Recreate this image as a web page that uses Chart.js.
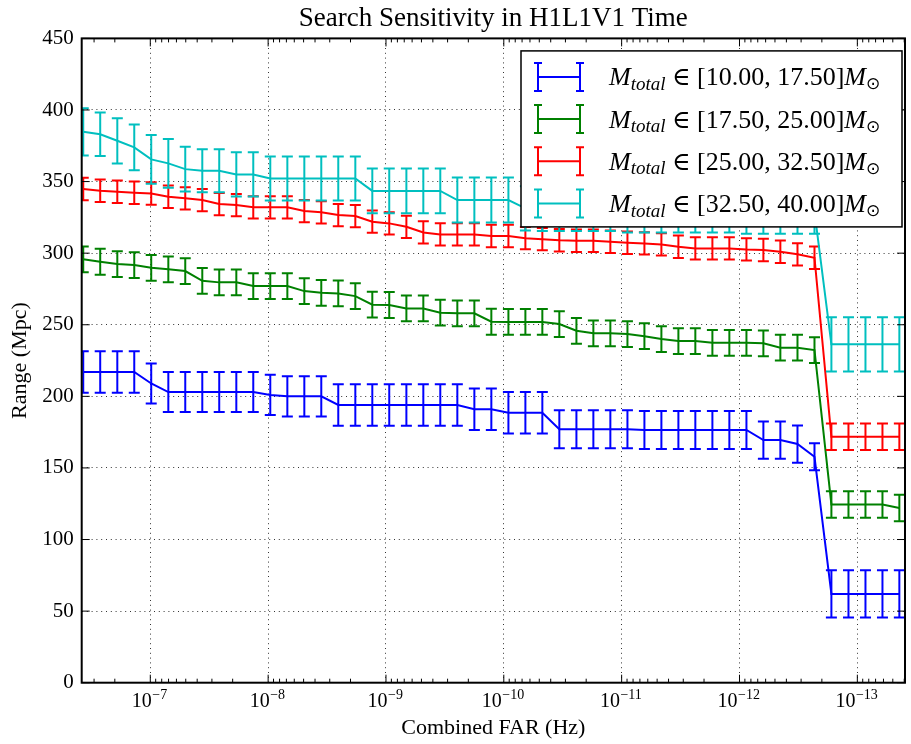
<!DOCTYPE html>
<html>
<head>
<meta charset="utf-8">
<title>Search Sensitivity in H1L1V1 Time</title>
<script src="https://cdn.jsdelivr.net/npm/chart.js@4.4.1/dist/chart.umd.min.js"></script>
<style>
  html, body { margin: 0; padding: 0; background: #fff; }
  #wrap { width: 911px; height: 744px; }
</style>
</head>
<body>
<div id="wrap"><canvas id="myChart" width="911" height="744"></canvas></div>
<script>
// combined false alarm rate thresholds (Hz), one per point
const farValues = [
  3.707e-7, 2.661e-7, 1.905e-7, 1.368e-7, 9.82e-8, 7.03e-8, 5.05e-8, 3.62e-8, 2.60e-8, 1.862e-8,
  1.337e-8, 9.59e-9, 6.87e-9, 4.93e-9, 3.54e-9, 2.54e-9, 1.82e-9, 1.306e-9, 9.38e-10, 6.71e-10,
  4.82e-10, 3.46e-10, 2.48e-10, 1.778e-10, 1.276e-10, 9.14e-11, 6.56e-11, 4.71e-11, 3.38e-11, 2.42e-11,
  1.738e-11, 1.247e-11, 8.93e-12, 6.41e-12, 4.60e-12, 3.30e-12, 2.37e-12, 1.698e-12, 1.219e-12, 8.73e-13,
  6.27e-13, 4.50e-13, 3.22e-13, 2.31e-13, 1.660e-13, 1.189e-13, 8.53e-14, 6.12e-14, 4.40e-14
];

// total mass bin edges (solar masses)
const massEdges = [10, 17.5, 25, 32.5, 40];

// search range (Mpc) per mass bin
const rangeBin1 = [
  217, 217, 217, 217, 209, 203, 203, 203, 203, 203,
  203, 201, 200, 200, 200, 194, 194, 194, 194, 194,
  194, 194, 194, 191, 191, 188.5, 188.5, 188.5, 177, 177,
  177, 177, 177, 176.5, 176.5, 176.5, 176.5, 176.5, 176.5, 176.5,
  169.5, 169.5, 166.7, 157.8, 62, 62, 62, 62, 62
];
const rangeBin2 = [
  295.7, 294, 292.4, 291.7, 289.8, 288.7, 287.5, 280.7, 279.6, 279.6,
  277, 277, 277, 273.5, 272.3, 271.9, 270, 264, 263.8, 261.4,
  261.4, 258.4, 258, 258, 252.1, 252, 252, 252, 250.5, 245.8,
  244, 244, 243.5, 242, 240, 238.6, 238.6, 237.4, 237.4, 237.4,
  237, 234, 234, 232.3, 124.5, 124.5, 124.5, 124.5, 122
];
const rangeBin3 = [
  344.8, 343.6, 342.9, 342.2, 341.7, 339.4, 338.3, 337.1, 334.3, 333.6,
  332, 332, 332, 329.4, 328.5, 326.6, 325.9, 322, 320.8, 318.4,
  314.5, 313.1, 313.1, 313.1, 312, 312, 310.5, 309.8, 309, 308.7,
  308.7, 308, 307.3, 306.8, 306.1, 304.5, 303.3, 303.3, 303.3, 302.6,
  302.2, 301, 299.2, 296.8, 171.8, 171.8, 171.8, 171.8, 171.8
];
const rangeBin4 = [
  384.8, 383, 378.5, 373.9, 365.5, 362.7, 358.7, 357.5, 357.5, 355,
  355, 352.2, 352.2, 352.2, 352.2, 352.2, 352.2, 343.5, 343.5, 343.5,
  343.5, 343.5, 337.1, 337.1, 337.1, 337.1, 331.3, 331, 331, 331,
  331, 331, 330, 330, 330, 330, 330, 330, 330, 329,
  329, 329, 329, 329, 236.3, 236.3, 236.3, 236.3, 236.3
];

// one-sigma uncertainty on the range (Mpc)
const errBin1 = [
  14.5, 14.5, 14.5, 14.5, 14, 14, 14, 14, 14, 14,
  14, 14, 14, 14, 14, 14.5, 14.5, 14.5, 14.5, 14.5,
  14.5, 14.5, 14.5, 14.5, 14.5, 14.5, 14.5, 14.5, 13.3, 13.3,
  13.3, 13.3, 13.3, 13.3, 13.3, 13.3, 13.3, 13.3, 13.3, 13.3,
  13, 13, 13, 9.5, 16.5, 16.5, 16.5, 16.5, 16.5
];
const errBin2 = [
  9, 9, 9, 9, 9, 9, 9, 9, 9, 9,
  9, 9, 9, 9, 9, 9, 9, 9, 9, 9,
  9, 9, 9, 9, 9, 9, 9, 9, 9, 9,
  9, 9, 9, 9, 9, 9, 9, 9, 9, 9,
  9, 9, 9, 9, 9.3, 9.3, 9.3, 9.3, 9.3
];
const errBin3 = [
  7.8, 7.8, 7.8, 7.8, 7.8, 7.8, 7.8, 7.8, 7.8, 7.8,
  7.8, 7.8, 7.8, 7.8, 7.8, 7.8, 7.8, 7.8, 7.8, 7.8,
  7.8, 7.8, 7.8, 7.8, 7.8, 7.8, 7.8, 7.8, 7.8, 7.8,
  7.8, 7.8, 7.8, 7.8, 7.8, 7.8, 7.8, 7.8, 7.8, 7.8,
  7.8, 7.8, 7.8, 7.8, 9.3, 9.3, 9.3, 9.3, 9.3
];
const errBin4 = [
  16.5, 15.2, 15.8, 16, 17, 17, 15.7, 15, 15, 15.4,
  15.4, 15.4, 15.4, 15.4, 15.4, 15.4, 15.4, 15.7, 15.7, 15.7,
  15.7, 15.7, 15.7, 15.7, 15.7, 15.7, 15.5, 15.5, 15.5, 15.5,
  15.5, 15.5, 15.5, 15.5, 15.5, 15.5, 15.5, 15.5, 15.5, 15.5,
  15.5, 15.5, 15.5, 15.5, 19, 19, 19, 19, 19
];

// labelled decades on the FAR axis
const farDecades = [-7, -8, -9, -10, -11, -12, -13];

const seriesColors = ['#0000ff', '#008000', '#ff0000', '#00bfbf'];
const ranges = [rangeBin1, rangeBin2, rangeBin3, rangeBin4];
const errors = [errBin1, errBin2, errBin3, errBin4];

const FONT = "'Liberation Serif', 'Times New Roman', serif";
const gridColor = 'rgba(0, 0, 0, 0.8)';

function binText(s) {
  return [massEdges[s].toFixed(2), massEdges[s + 1].toFixed(2)];
}

const datasets = ranges.map((vals, s) => ({
  label: 'M_total \u2208 [' + binText(s).join(', ') + '] M_sun',
  data: vals.map((v, i) => ({ x: farValues[i], y: v })),
  borderColor: seriesColors[s],
  backgroundColor: seriesColors[s],
  borderWidth: 2,
  pointRadius: 0,
  tension: 0,
  fill: false,
  order: 3 - s
}));

// vertical error bars with caps, drawn just under each line
const errorBars = {
  id: 'errorBars',
  beforeDatasetDraw(chart, args) {
    const { ctx, chartArea: a, scales: { x, y } } = chart;
    const s = args.index;
    const vals = ranges[s], err = errors[s];
    ctx.save();
    ctx.beginPath();
    ctx.rect(a.left, a.top, a.right - a.left, a.bottom - a.top);
    ctx.clip();
    ctx.strokeStyle = seriesColors[s];
    ctx.lineWidth = 2;
    ctx.beginPath();
    vals.forEach((v, i) => {
      const px = x.getPixelForValue(farValues[i]);
      const top = y.getPixelForValue(v + err[i]);
      const bot = y.getPixelForValue(v - err[i]);
      ctx.moveTo(px, top); ctx.lineTo(px, bot);
      ctx.moveTo(px - 5.5, top); ctx.lineTo(px + 5.5, top);
      ctx.moveTo(px - 5.5, bot); ctx.lineTo(px + 5.5, bot);
    });
    ctx.stroke();
    ctx.restore();
  }
};

// box around the axes, inward tick marks, and 10^n labels
const frameTicks = {
  id: 'frameTicks',
  afterDatasetsDraw(chart) {
    const { ctx, chartArea: a, scales: { x, y } } = chart;
    ctx.save();
    ctx.strokeStyle = '#000';
    ctx.lineWidth = 1;
    ctx.beginPath();
    x.ticks.forEach(t => {
      const px = x.getPixelForValue(t.value);
      const len = t.major ? 8 : 4;
      ctx.moveTo(px, a.bottom); ctx.lineTo(px, a.bottom - len);
      ctx.moveTo(px, a.top); ctx.lineTo(px, a.top + len);
    });
    y.ticks.forEach(t => {
      const py = y.getPixelForValue(t.value);
      ctx.moveTo(a.left, py); ctx.lineTo(a.left + 8, py);
      ctx.moveTo(a.right, py); ctx.lineTo(a.right - 8, py);
    });
    ctx.stroke();
    ctx.lineWidth = 2;
    ctx.strokeRect(a.left, a.top, a.right - a.left, a.bottom - a.top);

    ctx.fillStyle = '#000';
    ctx.textBaseline = 'alphabetic';
    ctx.textAlign = 'left';
    farDecades.forEach(e => {
      const px = x.getPixelForValue(Math.pow(10, e));
      const sup = '\u2212' + Math.abs(e);
      ctx.font = '20px ' + FONT;
      const wb = ctx.measureText('10').width;
      ctx.font = '14px ' + FONT;
      const ws = ctx.measureText(sup).width;
      const x0 = px - (wb + ws) / 2 - 1;
      ctx.font = '20px ' + FONT;
      ctx.fillText('10', x0, a.bottom + 24);
      ctx.font = '14px ' + FONT;
      ctx.fillText(sup, x0 + wb + 0.5, a.bottom + 16.5);
    });
    ctx.restore();
  }
};

// legend with error-bar handles and mass-bin labels
const massLegend = {
  id: 'massLegend',
  afterDraw(chart) {
    const { ctx, chartArea: a } = chart;
    const w = 381, h = 176;
    const left = a.right - 3 - w, top = a.top + 12.5;
    ctx.save();
    ctx.fillStyle = '#fff';
    ctx.fillRect(left, top, w, h);
    ctx.lineWidth = 1.5;
    ctx.strokeStyle = '#000';
    ctx.strokeRect(left, top, w, h);

    ranges.forEach((_, s) => {
      const cy = top + 26 + s * 42.2;
      const x1 = left + 17, x2 = left + 59;
      ctx.strokeStyle = seriesColors[s];
      ctx.lineWidth = 2;
      ctx.beginPath();
      ctx.moveTo(x1, cy); ctx.lineTo(x2, cy);
      [x1, x2].forEach(hx => {
        ctx.moveTo(hx, cy - 14); ctx.lineTo(hx, cy + 14);
        ctx.moveTo(hx - 4, cy - 14); ctx.lineTo(hx + 4, cy - 14);
        ctx.moveTo(hx - 4, cy + 14); ctx.lineTo(hx + 4, cy + 14);
      });
      ctx.stroke();

      const [lo, hi] = binText(s);
      const parts = [
        ['M', 'italic 26px ' + FONT, 0],
        ['total', 'italic 19px ' + FONT, 4.5],
        [' ', '26px ' + FONT, 0],
        ['\u2208', "25px 'DejaVu Serif', serif", 0],
        [' ', '26px ' + FONT, 0],
        ['[' + lo + ', ' + hi + ']', '26px ' + FONT, 0],
        ['M', 'italic 26px ' + FONT, 0],
        ['\u2299', "17px 'DejaVu Sans', sans-serif", 4]
      ];
      let tx = left + 88;
      const base = cy + 8.5;
      ctx.fillStyle = '#000';
      ctx.textBaseline = 'alphabetic';
      ctx.textAlign = 'left';
      parts.forEach(([t, f, dy]) => {
        ctx.font = f;
        ctx.fillText(t, tx, base + dy);
        tx += ctx.measureText(t).width;
      });
    });
    ctx.restore();
  }
};

new Chart('myChart', {
  type: 'line',
  data: { datasets: datasets },
  options: {
    responsive: false,
    animation: false,
    layout: { padding: { left: 0, right: 6, top: 0, bottom: 0 } },
    plugins: {
      legend: { display: false },
      tooltip: { enabled: false },
      title: {
        display: true,
        text: 'Search Sensitivity in H1L1V1 Time',
        fullSize: false,
        color: '#000',
        font: { family: FONT, size: 27, weight: 'normal' },
        padding: { top: 3, bottom: 3 }
      }
    },
    scales: {
      x: {
        type: 'logarithmic',
        reverse: true,
        min: 3.94e-14,
        max: 3.82e-7,
        afterBuildTicks: scale => {
          const ticks = [];
          for (let e = -14; e <= -7; e++) {
            for (let k = 1; k <= 9; k++) {
              const v = k * Math.pow(10, e);
              if (v >= scale.min && v <= scale.max) ticks.push({ value: v, major: k === 1 });
            }
          }
          scale.ticks = ticks;
        },
        afterFit: scale => { scale.height = 61.3; },
        grid: {
          color: ctx => (ctx.tick && ctx.tick.major ? gridColor : 'rgba(0,0,0,0)'),
          lineWidth: 1,
          drawTicks: false
        },
        border: { display: false, dash: [1, 3.8] },
        ticks: { display: false, autoSkip: false },
        title: {
          display: true,
          text: 'Combined FAR (Hz)',
          color: '#000',
          font: { family: FONT, size: 22 },
          padding: { top: 0, bottom: 3 }
        }
      },
      y: {
        min: 0,
        max: 450,
        afterFit: scale => { scale.width = 81.7; },
        grid: { color: gridColor, lineWidth: 1, drawTicks: false },
        border: { display: false, dash: [1, 3.8] },
        ticks: { stepSize: 50, padding: 8, color: '#000', font: { family: FONT, size: 21 } },
        title: {
          display: true,
          text: 'Range (Mpc)',
          color: '#000',
          font: { family: FONT, size: 22 },
          padding: { top: 7, bottom: 0 }
        }
      }
    }
  },
  plugins: [errorBars, frameTicks, massLegend]
});
</script>
</body>
</html>
